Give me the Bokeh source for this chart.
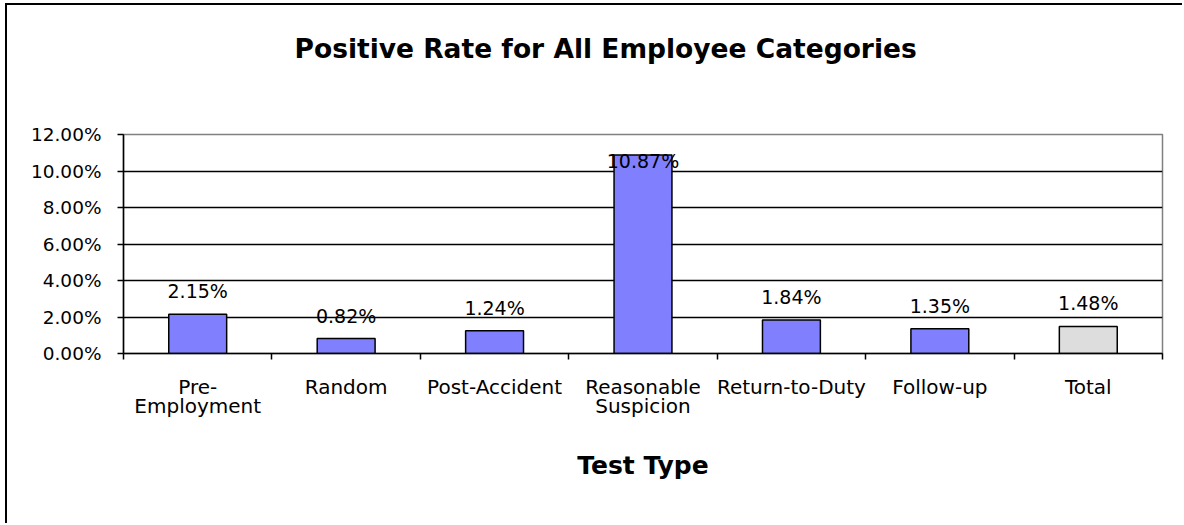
from bokeh.plotting import figure
from bokeh.models import (ColumnDataSource, Range1d, LinearAxis,
                          FixedTicker, NumeralTickFormatter, LabelSet)
from bokeh.core.properties import value
from bokeh.embed import file_html
from bokeh.resources import INLINE

# ---- data ----
title_text = "Positive Rate for All Employee Categories"
x_title = "Test Type"
categories = ["Pre-Employment", "Random", "Post-Accident", "Reasonable Suspicion",
              "Return-to-Duty", "Follow-up", "Total"]
tick_labels = ["Pre-\nEmployment", "Random", "Post-Accident", "Reasonable\nSuspicion",
               "Return-to-Duty", "Follow-up", "Total"]
positive_rate = [0.0215, 0.0082, 0.0124, 0.1087, 0.0184, 0.0135, 0.0148]
y_ticks = [0.0, 0.02, 0.04, 0.06, 0.08, 0.10, 0.12]

FONT = "DejaVu Sans"
OX, OY = 7, 5                      # where the canvas starts on the page
W, H = 1184 - OX, 525 - OY
FL, FR, FT, FB = 123, 1162, 134, 353   # frame edges in page pixels
ML, MR, MT, MB = FL - OX, W + OX - FR, FT - OY, H + OY - FB
frame_h = FB - FT
y_max = y_ticks[-1]
n = len(categories)
ppu = frame_h / y_max             # pixels per y unit

centers = [i + 0.5 for i in range(n)]
colors = ["#8080FF" if c != "Total" else "#DDDDDD" for c in categories]
label_text = [f"{v * 100:.2f}%" for v in positive_rate]
label_y = [min(v + 16 / ppu, y_max - 33 / ppu) for v in positive_rate]

src = ColumnDataSource(dict(x=centers, cat=categories, val=positive_rate, color=colors,
                            lab=label_text, laby=label_y))

p = figure(x_range=Range1d(0, n), y_range=Range1d(0, y_max),
           width=W, height=H, output_backend="svg", toolbar_location=None,
           x_axis_location=None, y_axis_location=None,
           min_border_left=ML, min_border_right=MR, min_border_top=MT, min_border_bottom=MB,
           title=title_text)
p.border_fill_color = None
p.background_fill_color = "white"
p.styles = {"margin-left": f"{OX - 2}px", "margin-top": f"{OY - 2}px",
            "border-left": "2px solid #000000", "border-top": "2px solid #000000"}
p.outline_line_color = "#808080"
p.outline_line_width = 1.5

p.title.align = "left"
p.title.offset = 294 - FL
p.title.standoff = 10
p.title.text_font = FONT
p.title.text_font_size = "26.5px"
p.title.text_font_style = "bold"
p.title.text_color = "black"

# invisible spacer above the frame, lifting the title
spacer = LinearAxis(ticker=FixedTicker(ticks=[centers[0]]))
spacer.axis_line_color = None
spacer.major_tick_line_color = None
spacer.minor_tick_line_color = None
spacer.major_tick_out = 66
spacer.major_tick_in = 0
spacer.major_label_standoff = 0
spacer.major_label_overrides = {centers[0]: " "}
spacer.major_label_text_color = None
spacer.major_label_text_font_size = "1px"
p.add_layout(spacer, "above")

# y axis
yax = LinearAxis(ticker=FixedTicker(ticks=y_ticks),
                 formatter=NumeralTickFormatter(format="0.00%"))
yax.axis_line_color = "black"
yax.axis_line_width = 1.5
yax.major_tick_line_color = "black"
yax.major_tick_line_width = 1.5
yax.major_tick_out = 6
yax.major_tick_in = 0
yax.minor_tick_line_color = None
yax.major_label_text_font = FONT
yax.major_label_text_font_size = "18.5px"
yax.major_label_text_color = "black"
yax.major_label_standoff = 16
p.add_layout(yax, "left")

# x edge ticks axis (category boundaries), no labels drawn
xt = LinearAxis(ticker=FixedTicker(ticks=list(range(n + 1))))
xt.axis_line_color = "black"
xt.axis_line_width = 1.5
xt.major_tick_line_color = "black"
xt.major_tick_line_width = 1.5
xt.major_tick_out = 6
xt.major_tick_in = 0
xt.minor_tick_line_color = None
xt.major_label_text_color = None
xt.major_label_text_font_size = "1px"
xt.major_label_standoff = 0
p.add_layout(xt, "below")

# category label axis
xc = LinearAxis(ticker=FixedTicker(ticks=centers))
xc.axis_line_color = None
xc.major_tick_line_color = None
xc.minor_tick_line_color = None
xc.major_label_overrides = dict(zip(centers, tick_labels))
xc.major_label_text_font = FONT
xc.major_label_text_font_size = "20px"
xc.major_label_text_color = "black"
xc.major_label_text_line_height = 0.8
xc.major_label_standoff = 9
xc.axis_label = x_title
xc.axis_label_text_font = FONT
xc.axis_label_text_font_size = "25px"
xc.axis_label_text_font_style = "bold"
xc.axis_label_text_color = "black"
xc.axis_label_standoff = 30
p.add_layout(xc, "below")

p.xgrid.grid_line_color = None
p.ygrid.ticker = FixedTicker(ticks=y_ticks[1:-1])
p.ygrid.grid_line_color = "black"
p.ygrid.grid_line_width = 1.5

p.vbar(x="x", top="val", width=0.39, source=src, fill_color="color",
       line_color="black", line_width=1.5)

labels = LabelSet(x="x", y="laby", text="lab", source=src, text_align="center",
                  text_baseline="alphabetic", text_font=value(FONT),
                  text_font_size=value("19px"), text_color="black")
p.add_layout(labels)

open("out.html", "w").write(file_html(p, INLINE))
